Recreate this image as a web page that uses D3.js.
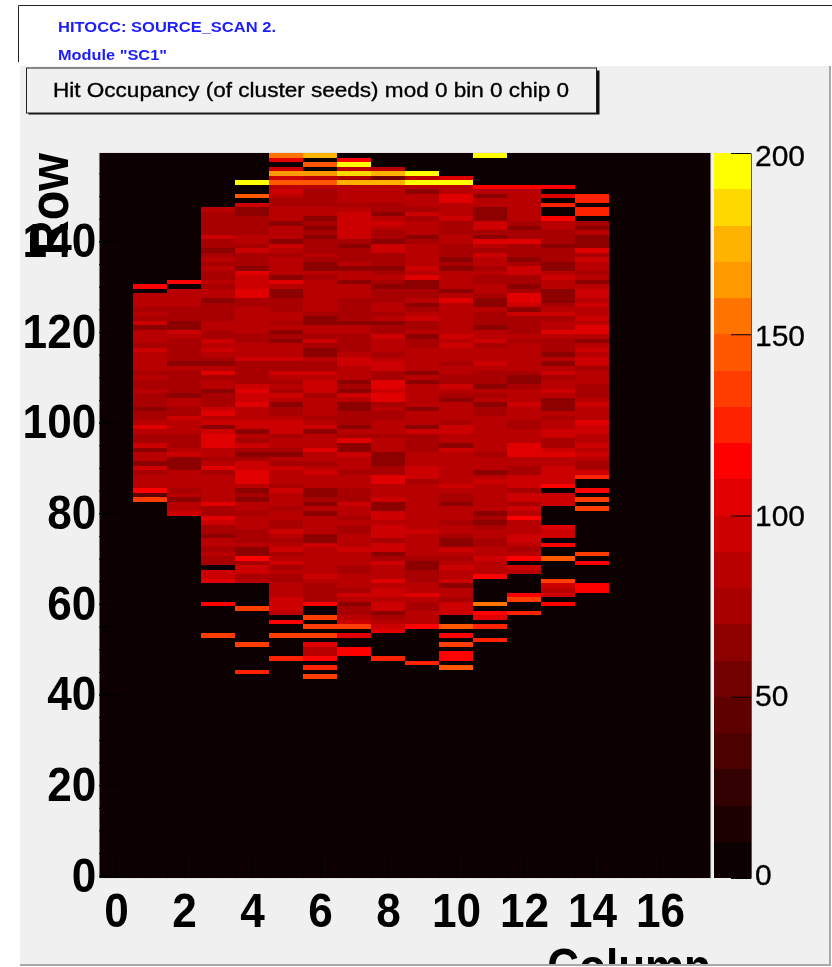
<!DOCTYPE html>
<html>
<head>
<meta charset="utf-8">
<script src="https://cdn.jsdelivr.net/npm/d3@7"></script>
<style>
    body { margin: 0; background: #fff; }
    svg { display: block; }
    text { font-family: "Liberation Sans", Arial, sans-serif; fill: #000; }
</style>
</head>
<body>
<div id="chart"></div>
<script>
const svgWidth = 832;
const svgHeight = 967;

// palette of the colour bar, one colour per 10 counts, bottom to top
const palette = ["#0d0000", "#1f0000", "#330000", "#4d0000", "#5f0000", "#730000", "#8c0000", "#a80000", "#b80000", "#cc0000",
    "#e00000", "#ff0000", "#ff2000", "#ff3c00", "#ff5900", "#ff7300", "#ff9900", "#ffb300", "#ffd900", "#ffff00"];

const columns = [1, 2, 3, 4, 5, 6, 7, 8, 9, 10, 11, 12, 13, 14];
// highest filled row of each column; the arrays below run from that row downwards
const topRows = [130, 131, 147, 153, 159, 159, 158, 156, 155, 154, 159, 152, 152, 150];

const col1 = [115,0,85,85,85,75,85,75,95,65,
    85,85,85,75,95,85,85,85,85,75,
    85,75,75,85,75,75,75,65,75,75,
    85,105,85,75,75,95,65,85,85,65,
    95,75,85,85,85,115,45,135];
const col2 = [115,0,85,85,85,85,75,75,75,65,
    65,95,85,75,75,75,75,75,65,85,
    75,75,75,75,75,65,85,85,75,75,
    95,85,85,85,75,75,75,85,95,65,
    65,65,85,85,85,85,75,85,65,85,85,95];
const col3 = [85,75,75,75,75,75,95,75,75,65,
    75,85,75,85,75,75,85,75,85,85,
    65,75,75,75,75,85,85,75,75,95,
    85,95,85,75,65,85,105,75,85,85,
    65,75,75,75,95,105,85,95,65,95,
    105,105,105,85,85,75,85,105,75,85,
    85,85,85,85,85,105,75,75,105,95,
    75,75,65,85,85,75,85,75,75,0,
    95,95,105,0,0,0,0,115,
    0,0,0,0,0,0,135];
const col4 = [195,0,0,145,0,95,65,65,75,75,
    75,75,85,85,75,95,75,75,75,65,
    105,95,95,95,105,105,75,75,85,85,
    85,85,85,85,75,75,85,85,85,95,
    75,75,75,75,75,95,105,95,95,105,
    85,85,85,95,95,65,85,75,95,75,
    65,75,95,95,105,105,105,85,65,75,
    65,85,85,75,85,85,85,75,75,75,
    85,65,65,115,75,95,95,75,85,
    0,0,0,0,0,135,0,0,0,0,
    0,0,0,135,0,0,0,0,0,125];
const col5 = [155,105,0,95,165,95,145,85,95,85,
    75,75,85,85,85,65,85,85,85,65,
    95,85,75,85,85,85,85,65,105,85,
    65,65,75,75,75,85,85,75,85,65,
    75,65,85,85,85,95,75,75,95,85,
    75,85,75,95,85,65,75,75,85,95,
    95,95,75,85,85,75,65,85,75,95,
    85,85,85,75,95,85,85,85,75,85,
    85,75,75,95,85,75,85,95,75,85,
    95,75,85,75,75,85,85,85,95,95,95,85,
    0,115,0,0,135,0,0,0,0,125];
const col6 = [175,0,145,0,165,85,145,85,75,75,
    75,75,85,85,65,75,65,75,65,75,
    75,75,85,75,65,65,85,75,85,85,
    85,85,85,85,85,75,65,65,85,85,
    75,95,75,65,65,85,75,75,95,85,
    95,95,95,75,85,85,85,85,75,85,
    95,65,85,85,85,105,85,85,75,85,
    95,85,85,85,65,65,75,65,85,65,
    85,85,85,85,65,65,95,85,85,85,
    85,85,85,95,85,75,75,75,75,115,
    0,0,135,0,135,0,135,0,105,85,
    85,115,0,125,0,135];
const col7 = [115,195,85,185,75,175,85,85,85,85,
    75,85,95,95,95,95,95,95,75,65,
    75,75,75,85,65,85,85,65,85,85,
    85,75,75,75,75,75,65,85,85,75,
    75,75,75,85,95,95,85,85,85,65,
    75,65,95,85,65,65,75,75,75,65,
    85,75,105,65,65,95,85,85,85,75,
    85,85,85,75,75,75,95,85,85,75,
    85,75,75,85,85,85,95,85,85,85,
    75,75,85,85,85,75,95,85,65,75,
    75,85,95,135,0,105,0,0,115,115];
const col8 = [85,175,55,175,85,85,85,85,75,75,
    65,85,95,85,75,75,65,95,95,75,
    75,75,65,75,85,75,65,75,75,75,
    85,85,75,85,65,75,75,95,85,85,
    85,75,85,95,95,75,75,105,105,95,
    105,105,75,85,75,75,85,85,85,75,
    85,85,85,65,65,65,75,75,105,105,
    85,85,85,95,65,65,95,95,85,95,
    95,95,75,95,95,65,75,95,85,85,
    85,105,85,95,95,85,95,95,65,75,
    85,95,105,0,0,0,0,0,125];
const col9 = [195,85,195,85,65,85,85,85,75,95,
    75,85,85,85,65,75,85,85,85,85,
    85,95,85,105,65,65,75,75,85,65,
    75,85,95,75,75,85,65,75,75,85,
    85,85,85,85,65,85,65,85,85,85,
    85,85,65,85,85,85,65,95,75,75,
    75,75,85,85,85,95,95,95,75,85,
    85,85,85,85,85,85,85,85,85,95,
    85,85,85,85,85,75,65,65,75,75,
    75,85,85,105,85,75,75,85,85,85,
    115,0,0,0,0,0,0,0,125];
const col10 = [105,195,85,85,105,105,85,85,85,95,
    75,75,75,85,85,75,75,75,65,75,
    65,85,85,85,85,65,85,105,85,85,
    85,85,85,85,85,95,85,95,85,85,
    85,75,85,85,75,75,95,85,75,65,
    85,85,85,85,75,95,95,85,85,65,
    95,85,85,85,85,85,85,85,95,85,
    75,75,65,85,85,85,75,85,85,75,
    65,65,95,85,75,85,95,85,85,95,
    65,85,85,75,95,95,95,0,0,145,
    0,115,0,135,0,115,115,0,145];
const col11 = [195,0,0,0,0,0,0,115,85,65,
    85,85,65,65,65,95,95,75,65,105,
    85,75,95,85,85,75,85,75,75,85,
    85,75,65,65,85,75,75,75,65,85,
    85,95,75,85,85,85,95,85,75,75,
    75,65,85,75,85,65,75,75,85,85,
    85,85,85,85,85,85,75,85,85,85,
    65,85,95,85,85,85,85,85,85,65,
    75,65,75,85,85,75,75,85,85,95,
    85,85,85,115,0,0,0,0,0,155,
    0,115,105,0,125,0,0,125];
const col12 = [115,85,85,85,85,85,85,85,75,65,
    75,75,105,75,75,75,65,75,95,95,
    75,75,65,75,105,105,95,65,95,75,
    75,75,75,85,75,85,85,85,85,85,
    85,75,65,65,75,85,85,85,95,85,
    85,85,75,75,85,85,85,105,105,105,
    85,85,75,75,95,95,95,75,95,95,
    75,95,85,115,85,85,85,95,95,85,
    75,85,115,0,95,85,0,0,0,0,
    115,135,0,0,125];
const col13 = [115,0,105,0,125,0,0,115,85,85,
    75,75,75,65,75,75,75,65,65,85,
    95,85,85,65,65,65,75,85,95,75,
    85,85,105,85,75,75,75,65,85,65,
    85,95,75,85,85,95,85,65,65,65,
    85,75,85,85,95,95,75,75,95,105,
    85,85,95,95,95,95,115,0,95,95,
    95,0,0,0,0,105,95,95,0,115,
    0,0,145,0,0,0,0,135,95,85,
    95,0,115];
const col14 = [125,125,0,125,125,0,75,65,85,65,
    65,65,105,75,95,85,85,75,85,65,
    85,95,95,85,95,85,85,95,85,105,
    105,85,65,85,95,85,95,95,75,85,
    85,85,75,75,75,85,95,85,85,85,
    105,95,95,85,85,95,85,95,85,75,
    75,95,125,0,0,115,0,135,0,135,
    0,0,0,0,0,0,0,0,0,135,
    0,115,0,0,0,0,115,115];
const columnValues = [col1, col2, col3, col4, col5, col6, col7, col8, col9, col10, col11, col12, col13, col14];

const columnTicks = [0, 2, 4, 6, 8, 10, 12, 14, 16];
const columnMinorTicks = d3.range(0, 17.5, 0.5);
const rowTicks = [0, 20, 40, 60, 80, 100, 120, 140];
const rowMinorTicks = d3.range(0, 160, 5);
const barTicks = [0, 50, 100, 150, 200];
const barLabelShift = { 0: -3, 50: -1, 100: 0, 150: 2, 200: 3 };

const plot = { left: 99, right: 711, top: 153, bottom: 878 };

const root = d3.select("#chart")
    .append("svg")
    .attr("width", svgWidth)
    .attr("height", svgHeight);

// the reference is a soft, resampled scan
root.append("filter")
    .attr("id", "soften")
    .attr("filterUnits", "userSpaceOnUse")
    .attr("x", 0).attr("y", 0)
    .attr("width", svgWidth).attr("height", svgHeight)
    .append("feGaussianBlur")
    .attr("stdDeviation", 0.55);

const svg = root.append("g").attr("filter", "url(#soften)");

svg.append("rect")
    .attr("width", svgWidth).attr("height", svgHeight)
    .attr("fill", "#fff");

// header lines and text
svg.append("path")
    .attr("d", "M18.5,62V5.5H832")
    .attr("fill", "none")
    .attr("stroke", "#222");
svg.append("text")
    .attr("x", 58).attr("y", 32)
    .attr("font-size", 14).attr("font-weight", "bold")
    .attr("textLength", 218).attr("lengthAdjust", "spacingAndGlyphs")
    .style("fill", "#1c1cff")
    .text("HITOCC: SOURCE_SCAN 2.");
svg.append("text")
    .attr("x", 58).attr("y", 60)
    .attr("font-size", 14).attr("font-weight", "bold")
    .attr("textLength", 109).attr("lengthAdjust", "spacingAndGlyphs")
    .style("fill", "#1c1cff")
    .text('Module "SC1"');

// grey pad
svg.append("clipPath").attr("id", "padClip")
    .append("rect")
    .attr("x", 20).attr("y", 66)
    .attr("width", 809).attr("height", 898);
svg.append("rect")
    .attr("x", 20).attr("y", 66)
    .attr("width", 809).attr("height", 898)
    .attr("fill", "#f0f0f0");
svg.append("path")
    .attr("d", "M20,965H830V66")
    .attr("fill", "none")
    .attr("stroke", "#a8a8a8")
    .attr("stroke-width", 2);

// title box with its shadow
svg.append("rect")
    .attr("x", 28.5).attr("y", 70.5)
    .attr("width", 571).attr("height", 44)
    .attr("fill", "#111");
svg.append("rect")
    .attr("x", 26.5).attr("y", 68)
    .attr("width", 570).attr("height", 45)
    .attr("fill", "#f0f0f0")
    .attr("stroke", "#222");
svg.append("text")
    .attr("x", 53).attr("y", 97)
    .attr("font-size", 21)
    .attr("textLength", 516).attr("lengthAdjust", "spacingAndGlyphs")
    .style("fill", "#000")
    .style("stroke", "#000")
    .style("stroke-width", 0.35)
    .text("Hit Occupancy (of cluster seeds) mod 0 bin 0 chip 0");

const xScale = d3.scaleLinear().domain([-0.5, 17.5]).range([plot.left, plot.right]);
const yScale = d3.scaleLinear().domain([-0.5, 159.5]).range([plot.bottom, plot.top]);
const zScale = d3.scaleLinear().domain([0, 200]).range([plot.bottom, plot.top]);
const colorScale = d3.scaleQuantize().domain([0, 200]).range(palette);

// plot background is the empty bin colour
svg.append("rect")
    .attr("x", plot.left).attr("y", plot.top)
    .attr("width", plot.right - plot.left).attr("height", plot.bottom - plot.top)
    .attr("fill", colorScale(0));

const cells = [];
columns.forEach(function(column, i) {
    columnValues[i].forEach(function(value, j) {
        if (value > 0) {
            cells.push({ column: column, row: topRows[i] - j, value: value });
        }
    });
});

svg.append("g")
    .attr("shape-rendering", "crispEdges")
    .selectAll("rect")
    .data(cells)
    .enter()
    .append("rect")
    .attr("x", d => xScale(d.column - 0.5))
    .attr("y", d => yScale(d.row + 0.5))
    .attr("width", d => xScale(d.column + 0.5) - xScale(d.column - 0.5))
    .attr("height", d => yScale(d.row - 0.5) - yScale(d.row + 0.5))
    .attr("fill", d => colorScale(d.value));

svg.append("rect")
    .attr("x", plot.left).attr("y", plot.top - 0.5)
    .attr("width", plot.right - plot.left).attr("height", plot.bottom - plot.top + 1)
    .attr("fill", "none")
    .attr("stroke", "#e4e4e4");

// minor ticks first, they sit black on the near black bins
svg.append("g")
    .attr("transform", `translate(0, ${plot.bottom})`)
    .call(d3.axisBottom(xScale).tickValues(columnMinorTicks).tickSize(-10).tickFormat(""))
    .call(g => g.select(".domain").remove());
svg.append("g")
    .attr("transform", `translate(${plot.left}, 0)`)
    .call(d3.axisLeft(yScale).tickValues(rowMinorTicks).tickSize(-10).tickFormat(""))
    .call(g => g.select(".domain").remove());

const xAxis = svg.append("g")
    .attr("transform", `translate(0, ${plot.bottom})`)
    .call(d3.axisBottom(xScale).tickValues(columnTicks).tickSize(-20).tickPadding(15));
const yAxis = svg.append("g")
    .attr("transform", `translate(${plot.left}, 0)`)
    .call(d3.axisLeft(yScale).tickValues(rowTicks).tickSize(-20).tickPadding(3));

[xAxis, yAxis].forEach(function(axis) {
    axis.select(".domain").remove();
    axis.selectAll("text")
        .attr("font-family", "Liberation Sans")
        .attr("font-size", 48)
        .attr("font-weight", "bold")
        .attr("transform", "scale(0.92, 1)");
});

svg.append("text")
    .attr("transform", `translate(68, ${plot.top}) rotate(-90) scale(0.88, 1)`)
    .attr("text-anchor", "end")
    .attr("font-size", 55)
    .attr("font-weight", "bold")
    .text("Row");

svg.append("g")
    .attr("clip-path", "url(#padClip)")
    .append("text")
    .attr("transform", `translate(${plot.right}, 984) scale(0.88, 1)`)
    .attr("text-anchor", "end")
    .attr("font-size", 50)
    .attr("font-weight", "bold")
    .text("Column");

// colour bar
const barLeft = 714;
const barRight = 751;
svg.append("g")
    .attr("shape-rendering", "crispEdges")
    .selectAll("rect")
    .data(palette)
    .enter()
    .append("rect")
    .attr("x", barLeft)
    .attr("y", (d, i) => zScale((i + 1) * 10))
    .attr("width", barRight - barLeft)
    .attr("height", (d, i) => zScale(i * 10) - zScale((i + 1) * 10))
    .attr("fill", d => d);

const zAxis = svg.append("g")
    .attr("transform", `translate(${barRight}, 0)`)
    .call(d3.axisRight(zScale).tickValues(barTicks).tickSize(-20).tickSizeOuter(0).tickPadding(4));
zAxis.select(".domain").attr("stroke", "#555");
zAxis.selectAll("text")
    .attr("font-family", "Liberation Sans")
    .attr("font-size", 30)
    .style("stroke", "#000")
    .style("stroke-width", 0.3)
    .attr("y", d => barLabelShift[d]);
</script>
</body>
</html>
